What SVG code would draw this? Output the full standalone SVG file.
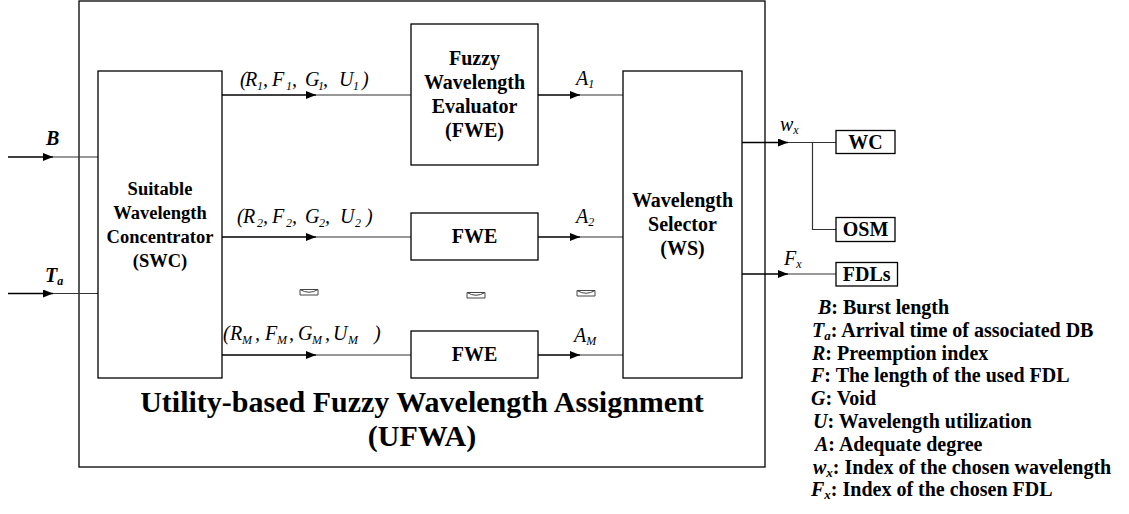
<svg xmlns="http://www.w3.org/2000/svg" width="1129" height="514" viewBox="0 0 1129 514" font-family="'Liberation Serif', 'Times New Roman', serif">
<style>
.box{fill:#fff;stroke:#000;stroke-width:1.3}
.nt{font-weight:bold;font-size:20px;fill:#000;text-anchor:middle}
.sw{font-size:18.5px}
.math{font-style:italic;font-size:20px;fill:#000}
.sub{font-size:12px}
.lg{font-weight:bold;font-size:20px;fill:#000}
.it{font-style:italic}
.c1{stroke:#000;stroke-width:1.6;fill:none}
.c2{stroke:#333;stroke-width:1.2;fill:none}
.dots{fill:none;stroke:#444;stroke-width:1}
.title{font-weight:bold;font-size:30px;fill:#000;text-anchor:middle}
</style>
<defs>
<marker id="ah" markerUnits="userSpaceOnUse" markerWidth="11" markerHeight="8" refX="10" refY="4" orient="auto">
<path d="M0,0 L10,4 L0,8 z" fill="#000"/>
</marker>
</defs>
<rect width="1129" height="514" fill="#fff"/>

<g id="ufwa">
<rect class="box" x="79" y="1" width="686" height="466"/>
<text class="title" x="422" y="412">Utility-based Fuzzy Wavelength Assignment</text>
<text class="title" x="422" y="446">(UFWA)</text>
</g>

<g id="connectors">
<line class="c1" x1="8" y1="157" x2="53" y2="157" marker-end="url(#ah)"/>
<line class="c2" x1="53" y1="157" x2="98" y2="157"/>
<line class="c1" x1="8" y1="293.5" x2="53" y2="293.5" marker-end="url(#ah)"/>
<line class="c2" x1="53" y1="293.5" x2="98" y2="293.5"/>
<line class="c1" x1="222" y1="95" x2="316" y2="95" marker-end="url(#ah)"/>
<line class="c2" x1="316" y1="95" x2="411" y2="95"/>
<line class="c1" x1="222" y1="237" x2="316" y2="237" marker-end="url(#ah)"/>
<line class="c2" x1="316" y1="237" x2="411" y2="237"/>
<line class="c1" x1="222" y1="355" x2="316" y2="355" marker-end="url(#ah)"/>
<line class="c2" x1="316" y1="355" x2="411" y2="355"/>
<line class="c1" x1="538" y1="95" x2="580" y2="95" marker-end="url(#ah)"/>
<line class="c2" x1="580" y1="95" x2="623" y2="95"/>
<line class="c1" x1="538" y1="237" x2="580" y2="237" marker-end="url(#ah)"/>
<line class="c2" x1="580" y1="237" x2="623" y2="237"/>
<line class="c1" x1="538" y1="355" x2="580" y2="355" marker-end="url(#ah)"/>
<line class="c2" x1="580" y1="355" x2="623" y2="355"/>
<line class="c1" x1="742" y1="142.5" x2="788" y2="142.5" marker-end="url(#ah)"/>
<line class="c2" x1="788" y1="142.5" x2="836" y2="142.5"/>
<polyline class="c2" points="812.5,142.5 812.5,229.5 836,229.5"/>
<line class="c1" x1="742" y1="274" x2="788" y2="274" marker-end="url(#ah)"/>
<line class="c2" x1="788" y1="274" x2="836" y2="274"/>
</g>

<g id="labels">
<text class="lg it" x="46" y="145">B</text>
<text class="lg it" x="45" y="282">T<tspan class="sub" dy="3" font-size="13px">a</tspan></text>

<text class="math" y="86"><tspan x="240">(</tspan><tspan x="245">R</tspan><tspan class="sub" x="257" dy="4">1</tspan><tspan x="263" dy="-4">,</tspan><tspan x="272">F</tspan><tspan class="sub" x="286" dy="4">1</tspan><tspan x="292" dy="-4">,</tspan><tspan x="305">G</tspan><tspan class="sub" x="318" dy="4">1</tspan><tspan x="323" dy="-4">,</tspan><tspan x="339">U</tspan><tspan class="sub" x="353" dy="4">1</tspan><tspan x="362" dy="-4">)</tspan></text>
<text class="math" y="223"><tspan x="237">(</tspan><tspan x="243">R</tspan><tspan class="sub" x="257" dy="4">2</tspan><tspan x="263" dy="-4">,</tspan><tspan x="272">F</tspan><tspan class="sub" x="286" dy="4">2</tspan><tspan x="292" dy="-4">,</tspan><tspan x="305">G</tspan><tspan class="sub" x="319" dy="4">2</tspan><tspan x="325" dy="-4">,</tspan><tspan x="340">U</tspan><tspan class="sub" x="355" dy="4">2</tspan><tspan x="366" dy="-4">)</tspan></text>
<text class="math" y="340"><tspan x="223">(</tspan><tspan x="230">R</tspan><tspan class="sub" x="242" dy="4">M</tspan><tspan x="255" dy="-4">,</tspan><tspan x="265">F</tspan><tspan class="sub" x="277" dy="4">M</tspan><tspan x="289" dy="-4">,</tspan><tspan x="298">G</tspan><tspan class="sub" x="312" dy="4">M</tspan><tspan x="325" dy="-4">,</tspan><tspan x="333">U</tspan><tspan class="sub" x="348" dy="4">M</tspan><tspan x="374" dy="-4">)</tspan></text>

<text class="math" x="576" y="85">A<tspan class="sub" dy="3">1</tspan></text>
<text class="math" x="576" y="223">A<tspan class="sub" dy="3">2</tspan></text>
<text class="math" x="574" y="342">A<tspan class="sub" dy="3">M</tspan></text>
<text class="math" x="780" y="130.5">w<tspan class="sub" dy="3">x</tspan></text>
<text class="math" x="784" y="265">F<tspan class="sub" dy="3">x</tspan></text>

<path class="dots" d="M300,289.5 H318 V295 H300 Z M300,289.5 Q309,295 318,289.5"/>
<path class="dots" d="M467,292.5 H485 V298 H467 Z M467,292.5 Q476,298 485,292.5"/>
<path class="dots" d="M577,290.5 H595 V296 H577 Z M577,290.5 Q586,296 595,290.5"/>
</g>

<g id="swc">
<rect class="box" x="98" y="71" width="124" height="307"/>
<text class="nt sw" x="160" y="195">Suitable</text>
<text class="nt sw" x="160" y="219">Wavelength</text>
<text class="nt sw" x="160" y="243">Concentrator</text>
<text class="nt sw" x="160" y="267">(SWC)</text>
</g>

<g id="fwe1">
<rect class="box" x="411" y="24" width="127" height="141"/>
<text class="nt" x="474.5" y="65">Fuzzy</text>
<text class="nt" x="474.5" y="89">Wavelength</text>
<text class="nt" x="474.5" y="113">Evaluator</text>
<text class="nt" x="474.5" y="137">(FWE)</text>
</g>

<g id="fwe2">
<rect class="box" x="411" y="213" width="127" height="47"/>
<text class="nt" x="474.5" y="243">FWE</text>
</g>

<g id="fweM">
<rect class="box" x="411" y="331" width="127" height="47"/>
<text class="nt" x="474.5" y="361">FWE</text>
</g>

<g id="ws">
<rect class="box" x="623" y="71" width="119" height="307"/>
<text class="nt" x="682.5" y="207">Wavelength</text>
<text class="nt" x="682.5" y="231">Selector</text>
<text class="nt" x="682.5" y="255">(WS)</text>
</g>

<g id="wc">
<rect class="box" x="836" y="130.5" width="59" height="23"/>
<text class="nt" x="865.5" y="148.5">WC</text>
</g>

<g id="osm">
<rect class="box" x="836" y="217.5" width="59" height="24"/>
<text class="nt" x="865.5" y="236">OSM</text>
</g>

<g id="fdls">
<rect class="box" x="836" y="262.5" width="61.5" height="23.5"/>
<text class="nt" x="866.75" y="281">FDLs</text>
</g>

<g id="legend">
<text class="lg" x="818" y="314"><tspan class="it">B</tspan>: Burst length</text>
<text class="lg" x="812" y="336.8"><tspan class="it">T</tspan><tspan class="it" font-size="13px" dy="3">a</tspan><tspan dy="-3">: Arrival time of associated DB</tspan></text>
<text class="lg" x="812" y="359.6"><tspan class="it">R</tspan>: Preemption index</text>
<text class="lg" x="811" y="382.4"><tspan class="it">F</tspan>: The length of the used FDL</text>
<text class="lg" x="811" y="405.2"><tspan class="it">G</tspan>: Void</text>
<text class="lg" x="813" y="428"><tspan class="it">U</tspan>: Wavelength utilization</text>
<text class="lg" x="815" y="450.8"><tspan class="it">A</tspan>: Adequate degree</text>
<text class="lg" x="813" y="473.6"><tspan class="it">w</tspan><tspan class="it" font-size="13px" dy="3">x</tspan><tspan dy="-3">: Index of the chosen wavelength</tspan></text>
<text class="lg" x="811" y="496.4"><tspan class="it">F</tspan><tspan class="it" font-size="13px" dy="3">x</tspan><tspan dy="-3">: Index of the chosen FDL</tspan></text>
</g>
</svg>
